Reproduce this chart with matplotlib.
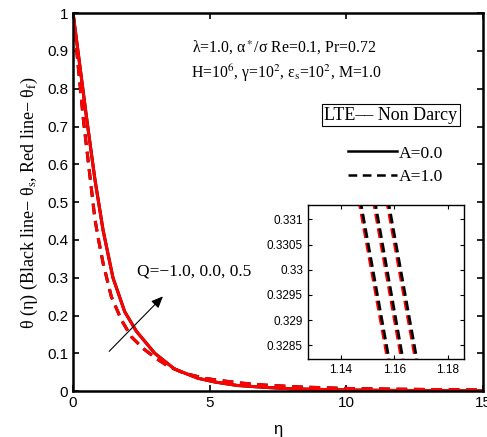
import matplotlib
matplotlib.use("Agg")
import matplotlib.pyplot as plt
from matplotlib.lines import Line2D

plt.rcParams['font.family'] = ['Liberation Sans', 'DejaVu Sans']
plt.rcParams['mathtext.fontset'] = 'stix'

# main curves (black = theta_s, red = theta_f, almost identical)
eta_a0 = [0, 0.25, 0.5, 0.8, 1.1, 1.46, 1.89, 2.32, 2.99, 3.72, 4.57, 5.2, 6.0, 7.0,
          8.0, 10, 12, 15]
theta_a0 = [1, 0.86, 0.72, 0.56, 0.425, 0.30, 0.21, 0.158, 0.10, 0.058, 0.034, 0.024,
            0.015, 0.010, 0.006, 0.003, 0.0015, 0.0005]

eta_a1 = [0, 0.38, 0.8, 0.92, 1.1, 1.4, 1.77, 2.13, 2.56, 3.05, 3.48, 4.09, 4.8, 5.5,
          6.2, 7.0, 8.3, 10, 12, 15]
theta_a1 = [1, 0.717, 0.455, 0.405, 0.338, 0.25, 0.188, 0.144, 0.113, 0.086, 0.066,
            0.047, 0.034, 0.027, 0.021, 0.016, 0.011, 0.007, 0.005, 0.003]

# zoomed segments (A=1.0) for Q = -1.0, 0.0, 0.5
inset_theta = [0.3314, 0.3281]
inset_red = [[1.1467, 1.1579], [1.1521, 1.1631], [1.1571, 1.1683]]
inset_black = [[1.1473, 1.1585], [1.1527, 1.1637], [1.1577, 1.1689]]

fig = plt.figure(figsize=(4.87, 4.37), dpi=100)
ax = fig.add_axes([0.150, 0.105, 0.842, 0.865])

ax.plot(eta_a0, theta_a0, color='black', lw=2.2)
ax.plot(eta_a1, theta_a1, color='black', lw=2.2, dashes=(3.5, 2.2))
ax.plot(eta_a0, theta_a0, color='red', lw=2.2)
ax.plot(eta_a1, theta_a1, color='red', lw=2.2, dashes=(3.5, 2.2))

ax.set_xlim(0, 15)
ax.set_ylim(0, 1)
ax.set_xticks([0, 5, 10, 15])
ax.set_yticks([0, 0.1, 0.2, 0.3, 0.4, 0.5, 0.6, 0.7, 0.8, 0.9, 1])
ax.set_yticklabels(['0', '0.1', '0.2', '0.3', '0.4', '0.5', '0.6', '0.7', '0.8', '0.9', '1'])
ax.tick_params(direction='in', top=True, right=True, labelsize=11, width=1.2, length=4)
for s in ax.spines.values():
    s.set_linewidth(1.8)

ax.set_xlabel('η', fontsize=12, labelpad=9)
ax.set_ylabel('θ (η) (Black line− θ$_\\mathrm{s}$, Red line− θ$_\\mathrm{f}$)',
              family='Liberation Serif', fontsize=13, labelpad=5)

ax.text(4.34, 0.907, 'λ=1.0, α$^*$/σ Re=0.1, Pr=0.72', family='Liberation Serif',
        fontsize=11.3, va='center')
ax.text(4.31, 0.841, 'H=10$^6$, γ=10$^2$, ε$_\\mathrm{s}$=10$^2$, M=1.0',
        family='Liberation Serif', fontsize=11.3, va='center')

ax.text(11.63, 0.730, 'LTE–– Non Darcy', family='Liberation Serif', fontsize=13,
        ha='center', va='center',
        bbox=dict(boxstyle='square,pad=0.15', fc='white', ec='black', lw=0.8))

handles = [Line2D([], [], color='black', lw=1.8),
           Line2D([], [], color='black', lw=1.8, dashes=(3.5, 2.2))]
ax.legend(handles, ['A=0.0', 'A=1.0'], loc='upper left', bbox_to_anchor=(0.632, 0.692),
          frameon=False, prop={'family': 'Liberation Serif', 'size': 12.6},
          handlelength=2.8, handletextpad=0.1, labelspacing=0.4)

ax.annotate('', xy=(3.36, 0.256), xytext=(1.25, 0.10),
            arrowprops=dict(arrowstyle='-|>,head_length=0.7,head_width=0.3',
                            color='black', lw=0.8))
ax.text(2.33, 0.316, 'Q=−1.0, 0.0, 0.5', family='Liberation Serif', fontsize=12.5,
        va='center')

# inset
axin = fig.add_axes([0.632, 0.178, 0.320, 0.352])
for k in range(3):
    axin.plot(inset_red[k], inset_theta, color='red', lw=2, dashes=(3.5, 1.8))
    axin.plot(inset_black[k], inset_theta, color='black', lw=2, dashes=(3.5, 1.8))
axin.set_xlim(1.1277, 1.186)
axin.set_ylim(0.32822, 0.33128)
axin.set_xticks([1.14, 1.16, 1.18])
axin.set_yticks([0.3285, 0.329, 0.3295, 0.33, 0.3305, 0.331])
axin.set_yticklabels(['0.3285', '0.329', '0.3295', '0.33', '0.3305', '0.331'])
axin.tick_params(direction='in', top=True, right=True, labelsize=8.5, width=0.8, length=3)
for s in axin.spines.values():
    s.set_linewidth(1.0)

fig.savefig('out.png', dpi=100)
